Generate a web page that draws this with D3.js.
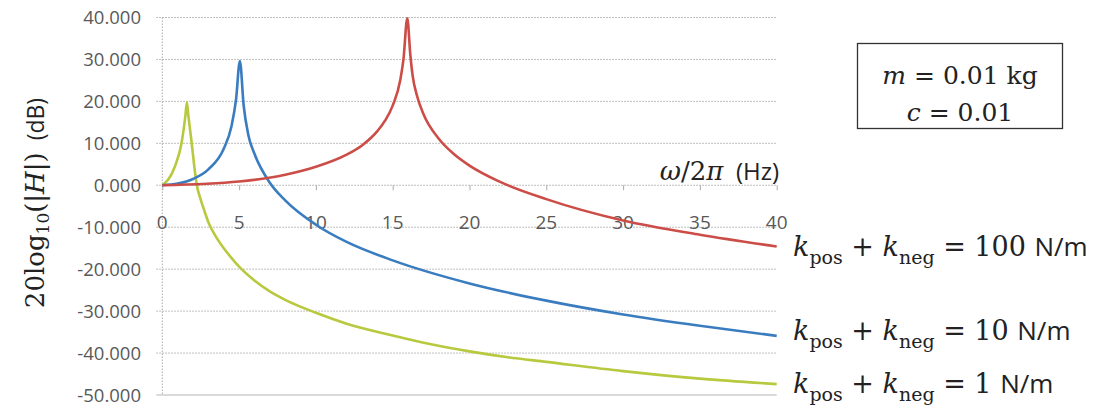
<!DOCTYPE html>
<html>
<head>
<meta charset="utf-8">
<script src="https://cdn.jsdelivr.net/npm/d3@7"></script>
<style>
  body { margin: 0; background: #fff; }
</style>
</head>
<body>
<div id="chart"></div>
<script>
// frequency (Hz) and 20log10(|H|) (dB)
var freqRed = [0, 5, 8, 10, 12, 13, 14, 14.5, 15, 15.5, 15.7, 15.95, 16.15, 16.3, 16.6, 17, 18, 19, 20, 22, 25, 30, 35, 40];
var dbRed   = [0, 0.9, 2.5, 4.4, 7.3, 9.5, 12.9, 15.4, 19, 25.2, 30, 39.8, 31, 26.1, 21.1, 17, 11.1, 7.4, 4.7, 0.8, -3.3, -8.4, -11.8, -14.6];

var freqBlue = [0, 1, 2, 3, 4, 4.5, 4.8, 5.05, 5.3, 5.6, 6, 7, 8, 10, 12, 15, 20, 25, 30, 35, 40];
var dbBlue   = [0, 0.4, 1.5, 3.8, 8.7, 14, 20.4, 29.6, 18.9, 12, 7.5, 0.6, -3.6, -9.4, -13.5, -17.9, -23.4, -27.5, -30.8, -33.5, -35.9];

var freqGreen = [0, 0.8, 1.25, 1.5, 1.6, 1.7, 1.9, 2.1, 2.25, 2.5, 2.75, 3, 3.5, 4, 4.5, 5, 6, 7, 8, 10, 12, 15, 17.5, 20, 22.5, 25, 30, 35, 40];
var dbGreen   = [0, 4.3, 10, 16.5, 19.8, 16.5, 10.5, 4, 0, -3.4, -6.2, -8.8, -12.3, -15, -17.3, -19.4, -22.7, -25.3, -27.3, -30.4, -33, -35.8, -37.9, -39.6, -41, -42.1, -44.3, -46.1, -47.4];

var xTicks = [0, 5, 10, 15, 20, 25, 30, 35, 40];
var yTicks = [40, 30, 20, 10, 0, -10, -20, -30, -40, -50];

var width = 1102, height = 406;

var svg = d3.select("#chart").append("svg")
  .attr("width", width)
  .attr("height", height);

var x = d3.scaleLinear().domain([0, 40]).range([162.3, 776.7]);
var y = d3.scaleLinear().domain([-50, 40]).range([395, 17.5]);

// horizontal gridlines (dotted)
svg.append("g").selectAll("line")
  .data(yTicks)
  .enter().append("line")
  .attr("x1", x(0) - 6)
  .attr("x2", x(40))
  .attr("y1", d => y(d))
  .attr("y2", d => y(d))
  .attr("stroke", d => d == -50 ? "#b5b5b5" : "#aaaaaa")
  .attr("stroke-width", 1)
  .attr("stroke-dasharray", d => d == -50 ? null : "1.5,1.5");

// y axis line
svg.append("line")
  .attr("x1", x(0)).attr("x2", x(0))
  .attr("y1", y(40)).attr("y2", y(-50))
  .attr("stroke", "#aaaaaa")
  .attr("stroke-dasharray", "1.5,1.5");

// y tick labels
svg.append("g").selectAll("text")
  .data(yTicks)
  .enter().append("text")
  .attr("x", 141)
  .attr("y", d => y(d) + 6.5)
  .attr("text-anchor", "end")
  .attr("font-family", "Open Sans, sans-serif")
  .attr("font-size", 18.5)
  .attr("fill", "#595959")
  .text(d => d3.format(".3f")(d).replace("\u2212", "-"));

// x axis at 0 dB
var xAxis = d3.axisBottom(x).tickValues(xTicks).tickSize(5).tickFormat("");
var gx = svg.append("g")
  .attr("transform", `translate(0, ${y(0)})`)
  .call(xAxis);
gx.select(".domain").remove();
gx.selectAll(".tick line").attr("stroke", "#aaaaaa");

svg.append("g").selectAll("text")
  .data(xTicks)
  .enter().append("text")
  .attr("x", d => x(d))
  .attr("y", y(0) + 44)
  .attr("text-anchor", "middle")
  .attr("font-family", "Open Sans, sans-serif")
  .attr("font-size", 19)
  .attr("fill", "#595959")
  .text(d => d);

// curves
var series = [
  { f: freqGreen, v: dbGreen, color: "#b8c93f" },
  { f: freqBlue, v: dbBlue, color: "#3a7cc0" },
  { f: freqRed, v: dbRed, color: "#cc4d47" }
];

var line = d3.line()
  .x(d => x(d[0]))
  .y(d => y(d[1]))
  .curve(d3.curveMonotoneX);

svg.append("g").selectAll("path")
  .data(series)
  .enter().append("path")
  .attr("d", s => line(d3.zip(s.f, s.v)))
  .attr("fill", "none")
  .attr("stroke", s => s.color)
  .attr("stroke-width", 2.6)
  .attr("stroke-linejoin", "round");

// y axis title
var yTitle = svg.append("text")
  .attr("transform", "translate(44, 203) rotate(-90)")
  .attr("text-anchor", "middle")
  .attr("font-size", 26)
  .attr("fill", "#222");
yTitle.append("tspan").attr("font-family", "DejaVu Serif, serif").text("20log");
yTitle.append("tspan").attr("font-family", "DejaVu Serif, serif").attr("font-size", 17).attr("dy", 5).text("10");
yTitle.append("tspan").attr("font-family", "DejaVu Serif, serif").attr("dy", -5).text("(|");
yTitle.append("tspan").attr("font-family", "DejaVu Serif, serif").attr("font-style", "italic").text("H");
yTitle.append("tspan").attr("font-family", "DejaVu Serif, serif").text("|)");
yTitle.append("tspan").attr("font-family", "Open Sans, sans-serif").attr("font-size", 23).text("\u00a0\u00a0(dB)");

// x axis title
var xTitle = svg.append("text")
  .attr("x", 779)
  .attr("y", 180)
  .attr("text-anchor", "end")
  .attr("font-size", 26)
  .attr("fill", "#222");
xTitle.append("tspan").attr("font-family", "DejaVu Serif, serif").attr("font-style", "italic").text("\u03c9");
xTitle.append("tspan").attr("font-family", "DejaVu Serif, serif").text("/2");
xTitle.append("tspan").attr("font-family", "DejaVu Serif, serif").attr("font-style", "italic").text("\u03c0");
xTitle.append("tspan").attr("font-family", "Open Sans, sans-serif").attr("font-size", 24).text("\u00a0\u00a0(Hz)");

// parameter box
svg.append("rect")
  .attr("x", 857.5).attr("y", 43.5)
  .attr("width", 205).attr("height", 85)
  .attr("fill", "none")
  .attr("stroke", "#333")
  .attr("stroke-width", 1.3);

var boxLines = [["m", " = 0.01 kg"], ["c", " = 0.01"]];
svg.append("g").selectAll("text")
  .data(boxLines)
  .enter().append("text")
  .attr("x", 960)
  .attr("y", (d, i) => 84 + i * 37)
  .attr("text-anchor", "middle")
  .attr("font-family", "DejaVu Serif, serif")
  .attr("font-size", 25)
  .attr("fill", "#222")
  .each(function(d) {
    var t = d3.select(this);
    t.append("tspan").attr("font-style", "italic").text(d[0]);
    t.append("tspan").text(d[1]);
  });

// stiffness labels
var kLabels = ["100", "10", "1"];
var kLabelY = [256, 340, 393];
svg.append("g").selectAll("text")
  .data(kLabels)
  .enter().append("text")
  .attr("x", 793)
  .attr("y", (d, i) => kLabelY[i])
  .attr("font-family", "DejaVu Serif, serif")
  .attr("font-size", 27)
  .attr("fill", "#222")
  .each(function(d) {
    var t = d3.select(this);
    t.append("tspan").attr("font-style", "italic").text("k");
    t.append("tspan").attr("font-size", 19).attr("dy", 8).text("pos");
    t.append("tspan").attr("dy", -8).text(" + ");
    t.append("tspan").attr("font-style", "italic").text("k");
    t.append("tspan").attr("font-size", 19).attr("dy", 8).text("neg");
    t.append("tspan").attr("dy", -8).text(" = " + d + " ");
    t.append("tspan").attr("font-family", "Open Sans, sans-serif").attr("font-size", 26).text("N/m");
  });
</script>
</body>
</html>
